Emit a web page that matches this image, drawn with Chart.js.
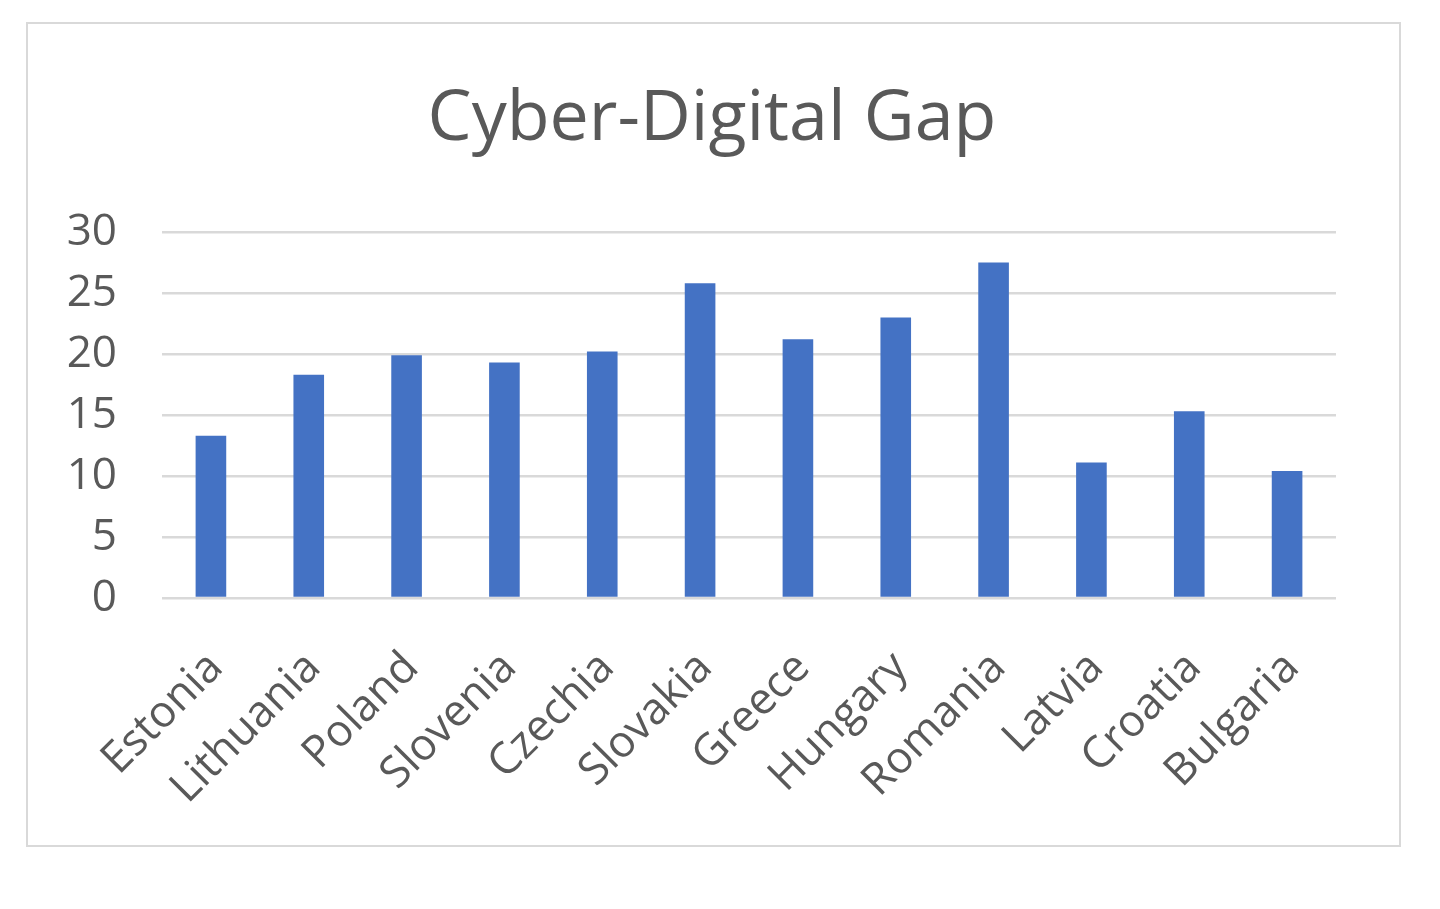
<!DOCTYPE html>
<html>
<head>
<meta charset="utf-8">
<script src="https://cdn.jsdelivr.net/npm/chart.js@4.4.0/dist/chart.umd.min.js"></script>
<style>
  html, body { margin: 0; padding: 0; background: #fff; }
  #wrap { position: relative; width: 1440px; height: 909px; }
  #frame {
    position: absolute; left: 26px; top: 22px; width: 1375px; height: 825px;
    box-sizing: border-box; border: 2px solid #d9d9d9; pointer-events: none;
  }
</style>
</head>
<body>
<div id="wrap">
  <canvas id="gapChart" width="1440" height="909"></canvas>
  <div id="frame"></div>
</div>
<script>
// values
const countries = ["Estonia", "Lithuania", "Poland", "Slovenia", "Czechia", "Slovakia",
                   "Greece", "Hungary", "Romania", "Latvia", "Croatia", "Bulgaria"];
const gapValues = [13.3, 18.3, 19.9, 19.3, 20.2, 25.8, 21.2, 23.0, 27.5, 11.1, 15.3, 10.4];
const yTicks = [0, 5, 10, 15, 20, 25, 30];

const textGrey = "#595959";
const fontFam = "'Open Sans', 'Noto Sans', sans-serif";

let ctx = document.getElementById("gapChart");
let gapChart = new Chart(ctx, {
    type: "bar",
    data: {
        labels: countries,
        datasets: [
            {
                label: "Cyber-Digital Gap",
                data: gapValues,
                backgroundColor: "#4472c4",
                borderWidth: 0,
                categoryPercentage: 1,
                barPercentage: 0.313,
            },
        ],
    },
    options: {
        responsive: false,
        animation: false,
        devicePixelRatio: 1,
        layout: {
            padding: { left: 0, right: 16, top: 0, bottom: 0 },
        },
        plugins: {
            legend: { display: false },
            tooltip: { enabled: false },
            title: {
                display: true,
                text: "Cyber-Digital Gap",
                color: textGrey,
                font: { family: fontFam, size: 70, weight: "normal", lineHeight: 1.2 },
                padding: { top: 78, bottom: 70 },
            },
        },
        scales: {
            x: {
                grid: { display: false, drawTicks: false },
                border: { display: false },
                ticks: {
                    color: textGrey,
                    font: { family: fontFam, size: 44 },
                    minRotation: 45,
                    maxRotation: 45,
                    padding: 44,
                    labelOffset: 5,
                },
                afterFit: (scale) => {
                    scale.height = 311;
                },
            },
            y: {
                min: 0,
                max: 30,
                afterBuildTicks: (scale) => {
                    scale.ticks = yTicks.map((v) => ({ value: v }));
                },
                grid: { color: "#d9d9d9", lineWidth: 2.5, drawTicks: false },
                border: { display: false },
                ticks: {
                    color: textGrey,
                    font: { family: fontFam, size: 44 },
                    padding: 45,
                },
                afterFit: (scale) => {
                    scale.width = 162;
                },
            },
            // empty right axis, only keeps the right margin of the plot
            yRight: {
                position: "right",
                min: 0,
                max: 30,
                grid: { display: false },
                border: { display: false },
                ticks: { display: false },
                afterFit: (scale) => {
                    scale.width = 88;
                },
            },
        },
    },
    plugins: [],
});
</script>
</body>
</html>
